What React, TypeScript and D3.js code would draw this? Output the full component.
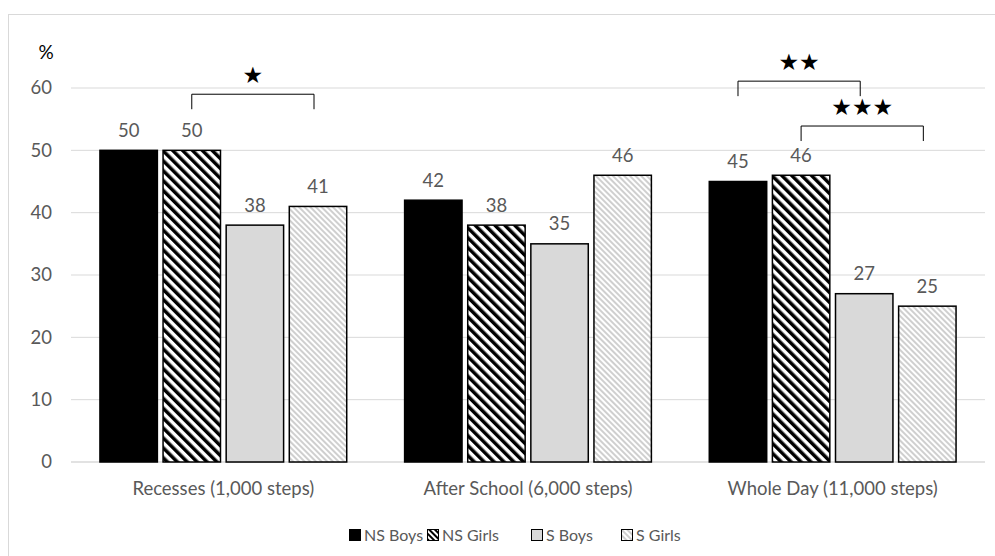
import React from "react";
import * as d3 from "d3";

const categories = ["Recesses (1,000 steps)", "After School (6,000 steps)", "Whole Day (11,000 steps)"];
const seriesNames = ["NS Boys", "NS Girls", "S Boys", "S Girls"];
const nsBoys = [50, 42, 45];
const nsGirls = [50, 38, 46];
const sBoys = [38, 35, 27];
const sGirls = [41, 46, 25];
const yTicks = [0, 10, 20, 30, 40, 50, 60];

// significance brackets: category index, from series, to series, level (y value), stars
const bracketCat = [0, 2, 2];
const bracketFrom = [1, 0, 1];
const bracketTo = [3, 2, 3];
const bracketLevel = [59, 61.1, 53.9];
const bracketStars = ["★", "★★", "★★★"];

const W = 995;
const H = 556;
const FONT = "Lato, 'Open Sans', sans-serif";
const TXT = "#595959";
const FS = 18.5;

export default function App() {
  const series = [nsBoys, nsGirls, sBoys, sGirls];
  const x0 = d3.scaleBand<string>().domain(categories).range([71, 985]).paddingInner(0.19).paddingOuter(0.095);
  const x1 = d3.scaleBand<string>().domain(seriesNames).range([0, x0.bandwidth()]).paddingInner(0.09);
  const y = d3.scaleLinear().domain([0, 60]).range([462, 88]);
  const fills = ["#000000", "url(#wideDiag)", "#d9d9d9", "url(#lightDiag)"];
  const cx = (c: number, s: number) => (x0(categories[c]) as number) + (x1(seriesNames[s]) as number) + x1.bandwidth() / 2;

  const legendX = [355, 433, 537, 627];

  return (
    <svg width={W} height={H} style={{ position: "absolute", left: 0, top: 0 }} fontFamily={FONT}>
      <defs>
        <pattern id="wideDiag" patternUnits="userSpaceOnUse" width="7" height="7" patternTransform="rotate(-45)">
          <rect width="7" height="7" fill="#fff" />
          <rect width="3.5" height="7" fill="#000" />
        </pattern>
        <pattern id="lightDiag" patternUnits="userSpaceOnUse" width="4" height="4" patternTransform="rotate(-45)">
          <rect width="4" height="4" fill="#fff" />
          <rect width="2" height="4" fill="#cfcfcf" />
        </pattern>
        <pattern id="wideDiagL" patternUnits="userSpaceOnUse" width="4" height="4" patternTransform="rotate(-45)">
          <rect width="4" height="4" fill="#fff" />
          <rect width="2" height="4" fill="#000" />
        </pattern>
      </defs>
      <rect x={0} y={0} width={W} height={H} fill="#fff" />
      <rect x={8.5} y={14.5} width={W} height={H} fill="none" stroke="#d9d9d9" strokeWidth={1} />
      {yTicks.map((t) => (
        <g key={t}>
          <line x1={71} x2={985} y1={y(t)} y2={y(t)} stroke="#d9d9d9" strokeWidth={t === 0 ? 1.5 : 1} />
          <text x={52} y={y(t)} dy="0.35em" textAnchor="end" fontSize={FS} fill={TXT}>{t}</text>
        </g>
      ))}
      <text x={46} y={52} dy="0.35em" textAnchor="middle" fontSize={19} fill="#000">%</text>
      {categories.map((c, ci) => (
        <g key={c}>
          {series.map((vals, si) => (
            <g key={si}>
              <rect
                x={(x0(c) as number) + (x1(seriesNames[si]) as number)}
                y={y(vals[ci])}
                width={x1.bandwidth()}
                height={y(0) - y(vals[ci])}
                fill={fills[si]}
                stroke="#000"
                strokeWidth={1.5}
              />
              <text x={cx(ci, si)} y={y(vals[ci]) - 20} dy="0.35em" textAnchor="middle" fontSize={FS} fill={TXT}>{vals[ci]}</text>
            </g>
          ))}
          <text x={(x0(c) as number) + x0.bandwidth() / 2} y={489} dy="0.35em" textAnchor="middle" fontSize={FS} fill={TXT}>{c}</text>
        </g>
      ))}
      {bracketCat.map((c, i) => {
        const xa = cx(c, bracketFrom[i]);
        const xb = cx(c, bracketTo[i]) - 4;
        const yy = y(bracketLevel[i]);
        return (
          <g key={i}>
            <path d={`M${xa},${yy + 15}V${yy}H${xb}V${yy + 15}`} fill="none" stroke="#000" strokeWidth={1} />
            <text x={(xa + xb) / 2} y={yy - 19} dy="0.35em" textAnchor="middle" fontSize={23} fontFamily="DejaVu Sans" fill="#000">{bracketStars[i]}</text>
          </g>
        );
      })}
      {seriesNames.map((s, i) => (
        <g key={s}>
          <rect x={legendX[i] - 5.5} y={529.5} width={11} height={11} fill={i === 1 ? "url(#wideDiagL)" : fills[i]} stroke="#000" strokeWidth={1} />
          <text x={legendX[i] + 9} y={535} dy="0.35em" fontSize={16} fill={TXT}>{s}</text>
        </g>
      ))}
    </svg>
  );
}
